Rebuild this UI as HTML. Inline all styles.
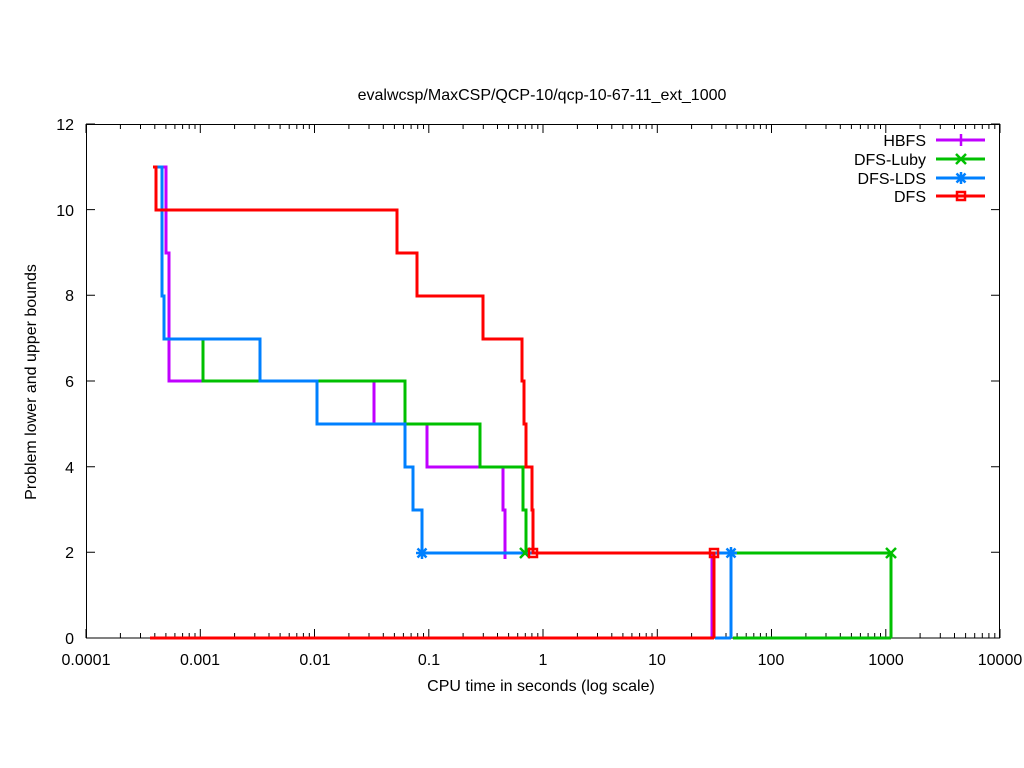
<!DOCTYPE html>
<html><head><meta charset="utf-8"><style>
body{margin:0;background:#fff}
svg{display:block;font-family:"Liberation Sans",sans-serif}
</style></head><body>
<svg id="s" width="1024" height="768" viewBox="0 0 1024 768" xmlns="http://www.w3.org/2000/svg">
<rect width="1024" height="768" fill="#fff"/>
<g id="ticks" stroke="#000" stroke-width="1"></g>
<rect x="86.5" y="124.5" width="913" height="513.5" fill="none" stroke="#000" stroke-width="1"/>
<g font-size="16" fill="#000" text-anchor="end">
<text x="74" y="644">0</text><text x="74" y="558">2</text><text x="74" y="473">4</text>
<text x="74" y="387">6</text><text x="74" y="301">8</text><text x="74" y="216">10</text><text x="74" y="130">12</text>
</g>
<g font-size="16" fill="#000" text-anchor="middle">
<text x="86" y="665">0.0001</text><text x="200" y="665">0.001</text><text x="315" y="665">0.01</text>
<text x="429" y="665">0.1</text><text x="543" y="665">1</text><text x="657" y="665">10</text>
<text x="771" y="665">100</text><text x="886" y="665">1000</text><text x="1000" y="665">10000</text>
</g>
<text x="541" y="691" font-size="16" text-anchor="middle">CPU time in seconds (log scale)</text>
<text x="542" y="100" font-size="16" text-anchor="middle">evalwcsp/MaxCSP/QCP-10/qcp-10-67-11_ext_1000</text>
<text transform="translate(36,382) rotate(-90)" font-size="16" text-anchor="middle">Problem lower and upper bounds</text>
<g fill="none" stroke-width="3" stroke-linejoin="miter">
<polyline stroke="#00c000" points="733,638 891,638"/>
<polyline stroke="#0080ff" points="715,638 731,638"/>
<polyline stroke="#c000ff" points="163,167 166,167 166,253 169,253 169,381 374,381 374,424 427,424 427,467 503,467 503,510 505,510 505,559"/>
<polyline stroke="#c000ff" points="712,553 712,638"/>
<polyline stroke="#00c000" points="163,339 203,339 203,381 405,381 405,424 480,424 480,467 523,467 523,510 526,510 526,553 891,553 891,638"/>
<polyline stroke="#0080ff" points="156,167 162,167 162,296 164,296 164,339 260,339 260,381 317,381 317,424 405,424 405,467 413,467 413,510 422,510 422,553 731,553 731,638"/>
<polyline stroke="#ff0000" points="153,167 156,167 156,210 397,210 397,253 417,253 417,296 483,296 483,339 522,339 522,381 524,381 524,424 526,424 526,467 532,467 532,510 533,510 533,553 714,553 714,638"/>
<polyline stroke="#ff0000" points="150,638 714,638"/>
</g>
<g stroke-width="2.5" fill="none">
<path stroke="#0080ff" d="M416,553h12M422,547v12M417.5,548.5l9,9M426.5,548.5l-9,9"/>
<path stroke="#0080ff" d="M725,553h12M731,547v12M726.5,548.5l9,9M735.5,548.5l-9,9"/>
<path stroke="#00c000" d="M520,548l10,10M530,548l-10,10M886,548l10,10M896,548l-10,10"/>
<rect stroke="#ff0000" x="529" y="549" width="8" height="8"/>
<rect stroke="#ff0000" x="710" y="549" width="8" height="8"/>
</g>
<g font-size="16" text-anchor="end">
<text x="926" y="146">HBFS</text><text x="926" y="165">DFS-Luby</text>
<text x="926" y="184">DFS-LDS</text><text x="926" y="202">DFS</text>
</g>
<g stroke-width="3">
<line x1="936" y1="140" x2="985" y2="140" stroke="#c000ff"/>
<line x1="936" y1="159" x2="985" y2="159" stroke="#00c000"/>
<line x1="936" y1="178" x2="985" y2="178" stroke="#0080ff"/>
<line x1="936" y1="196" x2="985" y2="196" stroke="#ff0000"/>
</g>
<g stroke-width="2.5" fill="none">
<path stroke="#c000ff" d="M961,134v12"/>
<path stroke="#00c000" d="M956,154l10,10M966,154l-10,10"/>
<path stroke="#0080ff" d="M955,178h12M961,172v12M956.5,173.5l9,9M965.5,173.5l-9,9"/>
<rect stroke="#ff0000" x="957" y="192" width="8" height="8"/>
</g>
</svg>
<script>
var g=document.getElementById('ticks'),d='';
for(var k=0;k<8;k++){var b=86+114.25*k;
 for(var m=1;m<10;m++){var x=b+114.25*Math.log10(m);var L=m==1?9:5;
  d+='M'+x.toFixed(1)+',638v-'+L+'M'+x.toFixed(1)+',124v'+L;}}
d+='M1000,638v-9M1000,124v9';
for(var i=0;i<=6;i++){var y=638-85.67*i;d+='M86,'+y.toFixed(1)+'h9M1000,'+y.toFixed(1)+'h-9';}
var p=document.createElementNS('http://www.w3.org/2000/svg','path');p.setAttribute('d',d);g.appendChild(p);
</script>
</body></html>
